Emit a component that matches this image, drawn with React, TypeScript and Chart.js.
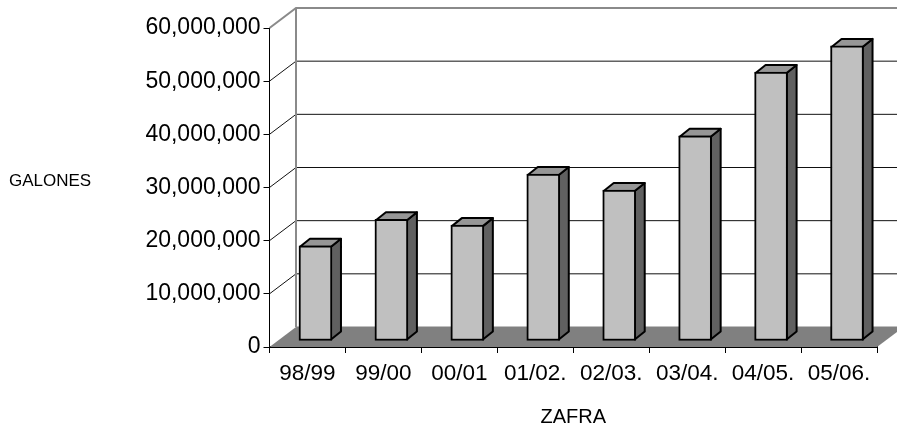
import React, { useEffect, useRef } from "react";
import { Chart, registerables } from "chart.js";

Chart.register(...registerables);

const categories = ["98/99", "99/00", "00/01", "01/02.", "02/03.", "03/04.", "04/05.", "05/06."];
const galones = [17900000, 22900000, 21800000, 31400000, 28400000, 38600000, 50600000, 55500000];
const yTicks = [0, 10000000, 20000000, 30000000, 40000000, 50000000, 60000000];
const yTitle = "GALONES";
const xTitle = "ZAFRA";

const FONT = "'Liberation Sans', Arial, sans-serif";
const WALL_DX = 26.5;
const WALL_DY = -20;
const BAR_DX = 8;
const BAR_DY = -6;
const SIDE_DX = 10;
const SIDE_DY = -8;

const line = (ctx: CanvasRenderingContext2D, pts: number[][], color: string, width: number) => {
  ctx.beginPath();
  pts.forEach((p, i) => (i ? ctx.lineTo(p[0], p[1]) : ctx.moveTo(p[0], p[1])));
  ctx.strokeStyle = color;
  ctx.lineWidth = width;
  ctx.stroke();
};

const poly = (ctx: CanvasRenderingContext2D, pts: number[][], fill: string, stroke?: string) => {
  ctx.beginPath();
  pts.forEach((p, i) => (i ? ctx.lineTo(p[0], p[1]) : ctx.moveTo(p[0], p[1])));
  ctx.closePath();
  ctx.fillStyle = fill;
  ctx.fill();
  if (stroke) {
    ctx.strokeStyle = stroke;
    ctx.lineWidth = 2;
    ctx.lineJoin = "round";
    ctx.stroke();
  }
};

const wallPlugin = {
  id: "wall3d",
  beforeDatasetsDraw(chart: any) {
    const { ctx, chartArea: a, scales } = chart;
    const y = scales.y;
    ctx.save();
    poly(ctx, [
      [a.left, a.bottom],
      [a.left + WALL_DX, a.bottom + WALL_DY],
      [a.right + WALL_DX, a.bottom + WALL_DY],
      [a.right, a.bottom],
    ], "#808080");
    yTicks.forEach((v) => {
      const py = y.getPixelForValue(v);
      const top = v === yTicks[yTicks.length - 1];
      if (v !== 0) {
        line(ctx, [[a.left, py], [a.left + WALL_DX, py + WALL_DY], [a.right + WALL_DX, py + WALL_DY]], top ? "#8a8a8a" : "#111111", top ? 2 : 1);
      } else {
        line(ctx, [[a.left + WALL_DX, py + WALL_DY], [a.right + WALL_DX, py + WALL_DY]], "#808080", 1);
      }
    });
    line(ctx, [[a.left + WALL_DX, a.top + WALL_DY], [a.left + WALL_DX, a.bottom + WALL_DY]], "#8a8a8a", 2);
    ctx.fillStyle = "#000000";
    ctx.font = `17px ${FONT}`;
    ctx.textAlign = "left";
    ctx.textBaseline = "middle";
    ctx.fillText(yTitle, 9, 181);
    ctx.restore();
  },
  beforeDatasetDraw(chart: any) {
    const { ctx } = chart;
    ctx.save();
    ctx.translate(BAR_DX, BAR_DY);
    const meta = chart.getDatasetMeta(0);
    meta.data.forEach((bar: any) => {
      const l = bar.x - bar.width / 2 + 1;
      const r = bar.x + bar.width / 2 - 1;
      const t = bar.y + 1;
      const b = bar.base - 1;
      poly(ctx, [[r, t], [r + SIDE_DX, t + SIDE_DY], [r + SIDE_DX, b + SIDE_DY], [r, b]], "#606060", "#000000");
      poly(ctx, [[l, t], [l + SIDE_DX, t + SIDE_DY], [r + SIDE_DX, t + SIDE_DY], [r, t]], "#969696", "#000000");
    });
  },
  afterDatasetDraw(chart: any) {
    chart.ctx.restore();
  },
};

export default function App() {
  const ref = useRef<HTMLCanvasElement>(null);
  useEffect(() => {
    const chart = new Chart(ref.current!, {
      type: "bar",
      data: {
        labels: categories,
        datasets: [{
          data: galones,
          backgroundColor: "#C0C0C0",
          borderColor: "#000000",
          borderWidth: 2,
          barThickness: 33,
          borderSkipped: false,
        }],
      },
      options: {
        animation: false,
        responsive: false,
        devicePixelRatio: 1,
        layout: { padding: { top: 28, right: 20, left: 0, bottom: 0 } },
        plugins: { legend: { display: false }, tooltip: { enabled: false } },
        scales: {
          x: {
            afterFit: (s: any) => { s.height = 82; },
            grid: { drawOnChartArea: false, color: "#000000", tickLength: 6, tickWidth: 1 },
            border: { color: "#000000", width: 2 },
            ticks: { color: "#000000", font: { family: FONT, size: 22.5 }, maxRotation: 0, autoSkip: false, padding: 7 },
            title: { display: true, text: xTitle, color: "#000000", font: { family: FONT, size: 20 }, padding: { top: 0, bottom: 0 } },
          },
          y: {
            min: 0,
            max: 60000000,
            afterFit: (s: any) => { s.width = 269.5; },
            afterBuildTicks: (s: any) => { s.ticks = yTicks.map((value) => ({ value })); },
            grid: { drawOnChartArea: false, color: "#000000", tickLength: 6, tickWidth: 1 },
            border: { color: "#000000", width: 1 },
            ticks: {
              color: "#000000",
              font: { family: FONT, size: 23 },
              padding: 3,
              callback: (v: any) => Number(v).toLocaleString("en-US"),
            },
          },
        },
      },
      plugins: [wallPlugin],
    } as any);
    return () => chart.destroy();
  }, []);
  return (
    <canvas
      ref={ref}
      width={897}
      height={429}
      style={{ position: "absolute", left: 0, top: 0, display: "block" }}
    />
  );
}
